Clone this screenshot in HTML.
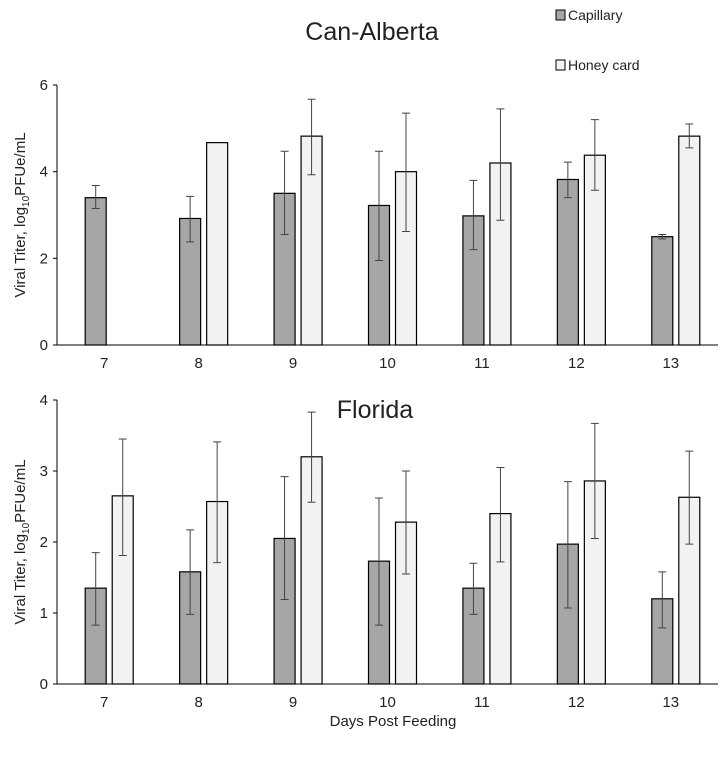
<!DOCTYPE html>
<html><head><meta charset="utf-8"><style>
body{margin:0;background:#fff}
svg text{font-family:"Liberation Sans",sans-serif;fill:#222}
</style></head><body>
<svg id="c" width="728" height="752" xmlns="http://www.w3.org/2000/svg"></svg>
<script>
const categories=["7","8","9","10","11","12","13"];
const topCap=[3.4,2.92,3.5,3.22,2.98,3.82,2.5];
const topCapLo=[3.15,2.38,2.55,1.95,2.2,3.4,2.45];
const topCapHi=[3.68,3.43,4.47,4.47,3.8,4.22,2.55];
const topHoney=[null,4.67,4.82,4.0,4.2,4.38,4.82];
const topHoneyLo=[null,null,3.93,2.62,2.88,3.57,4.55];
const topHoneyHi=[null,null,5.67,5.35,5.45,5.2,5.1];
const topTicks=[0,2,4,6];
const botCap=[1.35,1.58,2.05,1.73,1.35,1.97,1.2];
const botCapLo=[0.83,0.98,1.19,0.83,0.98,1.07,0.79];
const botCapHi=[1.85,2.17,2.92,2.62,1.7,2.85,1.58];
const botHoney=[2.65,2.57,3.2,2.28,2.4,2.86,2.63];
const botHoneyLo=[1.81,1.71,2.56,1.55,1.72,2.05,1.97];
const botHoneyHi=[3.45,3.41,3.83,3.0,3.05,3.67,3.28];
const botTicks=[0,1,2,3,4];

const svg=document.getElementById('c');
const NS='http://www.w3.org/2000/svg';
function mk(t,a,txt){const e=document.createElementNS(NS,t);for(const k in a)e.setAttribute(k,a[k]);if(txt!=null)e.textContent=txt;svg.appendChild(e);return e;}

function panel(p){
  const x0=57,x1=718,step=(x1-x0)/categories.length;
  const xc=i=>x0+step*(i+0.5);
  const y=v=>p.yb-(v/p.max)*(p.yb-p.yt);
  let e=mk('line',{x1:x0,y1:p.yt,x2:x0,y2:p.yb,stroke:'#000','stroke-width':1});
  
  
  e=mk('line',{x1:x0,y1:p.yb,x2:x1,y2:p.yb,stroke:'#000','stroke-width':1});
  
  
  p.ticks.forEach(t=>{
    mk('line',{x1:x0-4,y1:y(t),x2:x0,y2:y(t),stroke:'#000'});
    e=mk('text',{x:x0-9,y:y(t)+5,'text-anchor':'end','font-size':15},String(t));
    
    
  });
  categories.forEach((c,i)=>{
    e=mk('text',{x:xc(i),y:p.yb+23,'text-anchor':'middle','font-size':15},c);
    
    
    const series=[[p.cap,p.capLo,p.capHi,'#a6a6a6',-19,'capillary'],[p.hon,p.honLo,p.honHi,'#f2f2f2',8,'honey-card']];
    series.forEach(s=>{
      const v=s[0][i]; if(v==null)return;
      const bx=xc(i)+s[4];
      e=mk('rect',{x:bx,y:y(v),width:21,height:p.yb-y(v),fill:s[3],stroke:'#000','stroke-width':1.2});
      
      
      if(s[1][i]!=null){
        const cx=bx+10.5,ylo=y(s[1][i]),yhi=y(s[2][i]);
        e=mk('path',{d:`M${cx},${ylo}V${yhi}M${cx-4},${ylo}H${cx+4}M${cx-4},${yhi}H${cx+4}`,stroke:'#444','stroke-width':1,fill:'none'});
        
        
      }
    });
  });
  e=mk('text',{x:p.tx,y:p.ty,'text-anchor':'middle','font-size':25},p.title);
  
  
  const cy=(p.yt+p.yb)/2;
  e=mk('text',{x:0,y:0,transform:`translate(25,${cy}) rotate(-90)`,'text-anchor':'middle','font-size':15});
  e.innerHTML='Viral Titer,  log<tspan font-size="10" dy="4">10</tspan><tspan dy="-4">PFUe/mL</tspan>';
  
  
}
panel({id:'can-alberta',yt:85,yb:345,max:6,ticks:topTicks,cap:topCap,capLo:topCapLo,capHi:topCapHi,hon:topHoney,honLo:topHoneyLo,honHi:topHoneyHi,title:'Can-Alberta',tx:372,ty:40});
panel({id:'florida',yt:400,yb:684,max:4,ticks:botTicks,cap:botCap,capLo:botCapLo,capHi:botCapHi,hon:botHoney,honLo:botHoneyLo,honHi:botHoneyHi,title:'Florida',tx:375,ty:418});
let e=mk('text',{x:393,y:726,'text-anchor':'middle','font-size':15},'Days Post Feeding');


e=mk('rect',{x:556,y:10,width:9,height:10,fill:'#a6a6a6',stroke:'#000'});


e=mk('text',{x:568,y:20,'font-size':14},'Capillary');


e=mk('rect',{x:556,y:60,width:9,height:10,fill:'#f2f2f2',stroke:'#000'});


e=mk('text',{x:568,y:70,'font-size':14},'Honey card');


</script>
</body></html>
